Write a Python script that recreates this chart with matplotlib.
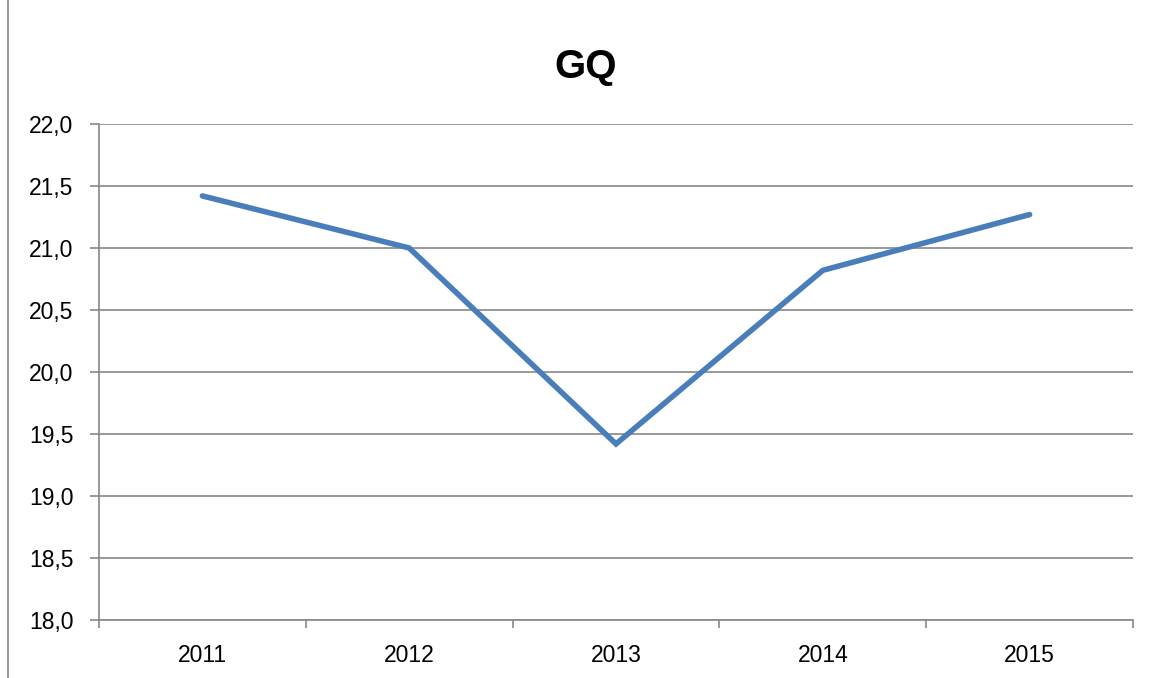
import matplotlib
matplotlib.use("Agg")
import matplotlib.pyplot as plt
from matplotlib.lines import Line2D
from matplotlib.ticker import FixedLocator, FuncFormatter

years = ["2011", "2012", "2013", "2014", "2015"]
values = [21.42, 21.0, 19.42, 20.82, 21.27]
title = "GQ"

plt.rcParams['font.family'] = ['Liberation Sans', 'DejaVu Sans']

fig = plt.figure(figsize=(11.5, 6.78), dpi=100)
ax = fig.add_axes([99/1150, 1-620/678, (1133-99)/1150, (620-124)/678])

x = list(range(len(years)))
ax.plot(x, values, color="#4a7ebb", linewidth=4, solid_capstyle="round", solid_joinstyle="miter")

ax.set_xlim(-0.5, len(years)-0.5)
ax.set_ylim(18.0, 22.0)
ax.set_yticks([18 + 0.5*i for i in range(9)])
ax.yaxis.set_major_formatter(FuncFormatter(lambda v, p: f"{v:.1f}".replace(".", ",")))
ax.set_xticks(x)
ax.set_xticklabels(years)
ax.xaxis.set_minor_locator(FixedLocator([i - 0.5 for i in range(len(years)+1)]))
ax.tick_params(axis='x', which='major', length=0, pad=17, labelsize=16.5)
ax.tick_params(axis='x', which='minor', length=5.5, color="#888888", width=1.2, direction='out')
ax.tick_params(axis='y', length=6.5, color="#888888", width=1.2, pad=12, labelsize=16.5)
ax.grid(axis='y', color="#888888", linewidth=1.2)
ax.set_axisbelow(True)
for s in ['top', 'right']:
    ax.spines[s].set_visible(False)
for s in ['left', 'bottom']:
    ax.spines[s].set_color("#888888")
    ax.spines[s].set_linewidth(1.2)

fig.text(586/1150, 1-67/678, title, ha='center', va='center', fontsize=29, fontweight='bold')
fig.add_artist(Line2D([8/1150, 8/1150], [0, 1], transform=fig.transFigure, color="#888888", linewidth=1.2))

fig.savefig("out.png", dpi=100)
